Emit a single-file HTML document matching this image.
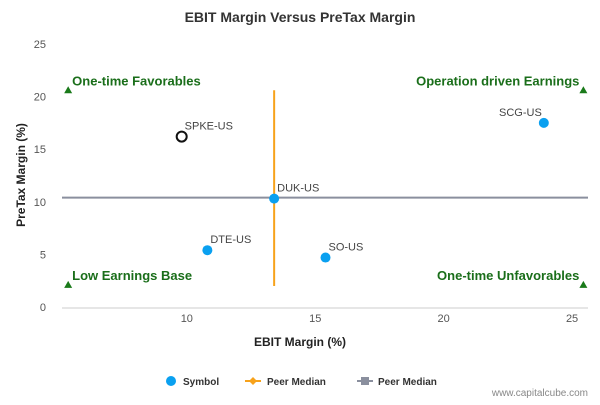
<!DOCTYPE html>
<html><head><meta charset="utf-8"><style>
body{margin:0;background:#fff;font-family:"Liberation Sans",sans-serif}
</style></head><body>
<svg id="c" width="600" height="400" xmlns="http://www.w3.org/2000/svg" font-family="Liberation Sans, sans-serif">
<rect width="600" height="400" fill="#fff"/>
<text x="300" y="22" text-anchor="middle" font-size="14" font-weight="bold" fill="#333">EBIT Margin Versus PreTax Margin</text>
<g id="grid"></g>
<g id="marks"></g>
<text x="300" y="346" text-anchor="middle" font-size="12" font-weight="bold" fill="#222">EBIT Margin (%)</text>
<text transform="translate(25,175) rotate(-90)" text-anchor="middle" font-size="12" font-weight="bold" fill="#222">PreTax Margin (%)</text>
<g font-size="10" font-weight="bold" fill="#333">
<g><circle cx="171" cy="381" r="5" fill="#0aa0f0"/><text x="183" y="385">Symbol</text></g>
<g><line x1="245" y1="381" x2="261" y2="381" stroke="#f7a21b" stroke-width="2"/><path d="M253 377 L257 381 L253 385 L249 381Z" fill="#f7a21b"/><text x="267" y="385">Peer Median</text></g>
<g><line x1="357" y1="381" x2="373" y2="381" stroke="#8a8f9e" stroke-width="2"/><rect x="361" y="377" width="8" height="8" fill="#8a8f9e"/><text x="378" y="385">Peer Median</text></g>
</g>
<text x="588" y="396" text-anchor="end" font-size="10" fill="#888">www.capitalcube.com</text>
</svg>
<script>
const labels=["SPKE-US","DUK-US","DTE-US","SO-US","SCG-US"];
const xVals=[9.8,13.4,10.8,15.4,23.9];
const yVals=[16.2,10.3,5.4,4.7,17.5];
const medianX=13.4, medianY=10.4;
const xTicks=[10,15,20,25], yTicks=[0,5,10,15,20,25];
const X0=62,X1=588,Y0=307,Y1=44,xmin=5.14,xmax=25.62,ymin=0,ymax=25;
const sx=v=>X0+(v-xmin)/(xmax-xmin)*(X1-X0);
const sy=v=>Y0-(v-ymin)/(ymax-ymin)*(Y0-Y1);
const NS="http://www.w3.org/2000/svg";
function mk(t,a,p){const e=document.createElementNS(NS,t);for(const k in a)e.setAttribute(k,a[k]);p.appendChild(e);return e;}
const g=document.getElementById('grid'),m=document.getElementById('marks');
xTicks.forEach(t=>{const e=mk('text',{x:sx(t),y:Y0+15,'text-anchor':'middle','font-size':11,fill:'#555'},g);e.textContent=t;

});
yTicks.forEach(t=>{const e=mk('text',{x:X0-16,y:sy(t)+4,'text-anchor':'end','font-size':11,fill:'#555'},g);e.textContent=t;

});
const ax=mk('line',{x1:X0,y1:Y0+1,x2:X1,y2:Y0+1,stroke:'#ccc'},g);


const hl=mk('line',{x1:sx(xmin),y1:sy(medianY),x2:sx(xmax),y2:sy(medianY),stroke:'#8a8f9e','stroke-width':2},m);


const vl=mk('line',{x1:sx(medianX),y1:sy(2),x2:sx(medianX),y2:sy(20.6),stroke:'#f7a21b','stroke-width':2},m);


const quad=[["One-time Favorables",5.38,20.6,'start'],["Operation driven Earnings",25.44,20.6,'end'],["Low Earnings Base",5.38,2.1,'start'],["One-time Unfavorables",25.44,2.1,'end']];
quad.forEach(q=>{const cx=sx(q[1]),cy=sy(q[2]);
const tr=mk('path',{d:`M${cx} ${cy-4} L${cx+4} ${cy+3} L${cx-4} ${cy+3}Z`,fill:'#1a7a1a'},m);


const t=mk('text',{x:q[3]=='start'?cx+4:cx-4,y:cy-5,'text-anchor':q[3],'font-size':13,'font-weight':'bold',fill:'#1a6e1a'},m);t.textContent=q[0];

});
labels.forEach((l,i)=>{const cx=sx(xVals[i]),cy=sy(yVals[i]);
const c=i==0?mk('circle',{cx,cy,r:5,fill:'#fff',stroke:'#111','stroke-width':2},m):mk('circle',{cx,cy,r:5,fill:'#0aa0f0'},m);


const rt=i==4;
const t=mk('text',{x:rt?cx-2:cx+3,y:cy-7,'text-anchor':rt?'end':'start','font-size':11,fill:'#444'},m);t.textContent=l;

});
</script>
</body></html>
